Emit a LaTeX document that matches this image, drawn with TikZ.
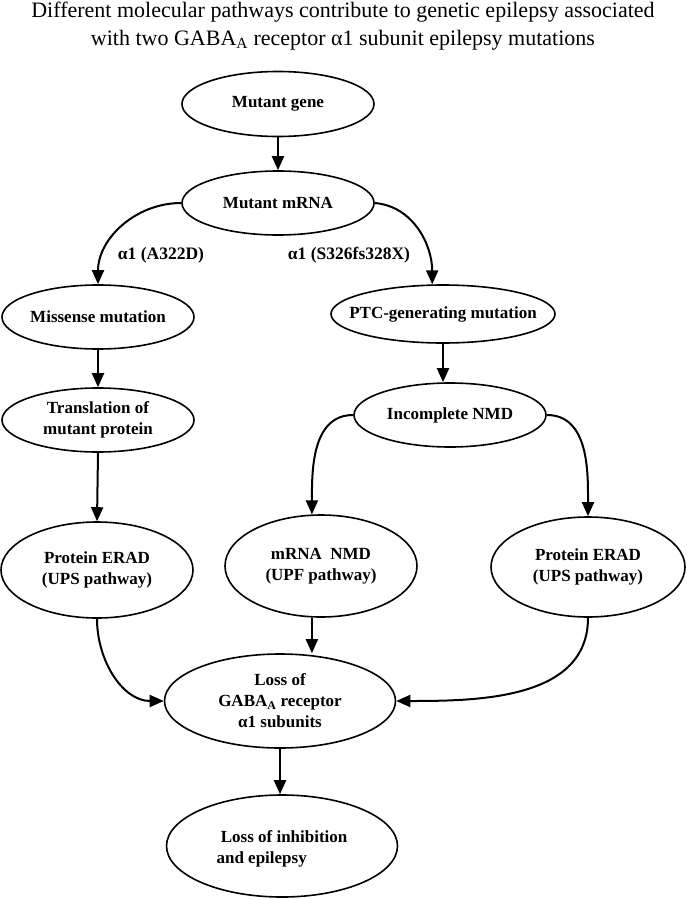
\documentclass[tikz,border=0pt]{standalone}
\usepackage{fontspec}
\setmainfont{Liberation Serif}
\usetikzlibrary{shapes.geometric,arrows.meta}
\begin{document}
\begin{tikzpicture}[x=1pt,y=-1pt,
  ebox/.style={draw, ellipse, line width=1.6pt, inner sep=0pt},
  etext/.style={font=\fontsize{17}{21}\selectfont\bfseries, align=center, inner sep=0pt},
  conn/.style={line width=2pt, -{Triangle[length=14pt,width=12pt]}},
  lbl/.style={font=\fontsize{17.5}{20}\selectfont\bfseries, inner sep=0pt}]
\useasboundingbox (0,0) rectangle (686,899);
\node[font=\fontsize{22}{28}\selectfont, align=center, inner sep=0pt] (title) at (343,26)
  {Different molecular pathways contribute to genetic epilepsy associated\\
   with two GABA\textsubscript{A} receptor α1 subunit epilepsy mutations};

% nodes
\node[ebox, minimum width=192pt, minimum height=65pt] (gene) at (278,104) {};
\node[etext] (genet) at (gene) {Mutant gene};
\node[ebox, minimum width=192pt, minimum height=64pt] (mrna) at (278,203) {};
\node[etext] (mrnat) at (mrna) {Mutant mRNA};
\node[ebox, minimum width=192pt, minimum height=64pt] (miss) at (98,317) {};
\node[etext] (misst) at (miss) {Missense mutation};
\node[ebox, minimum width=192pt, minimum height=64pt] (trans) at (98,420) {};
\node[etext] (transt) at (trans) {Translation of\\mutant protein};
\node[ebox, minimum width=224pt, minimum height=58pt] (ptc) at (443,314) {};
\node[etext] (ptct) at (ptc) {PTC-generating mutation};
\node[ebox, minimum width=192pt, minimum height=64pt] (inmd) at (450,415) {};
\node[etext] (inmdt) at (inmd) {Incomplete NMD};
\node[ebox, minimum width=192pt, minimum height=96pt] (erad1) at (97,570) {};
\node[etext] (erad1t) at (erad1) {Protein ERAD\\(UPS pathway)};
\node[ebox, minimum width=192pt, minimum height=102pt] (mnmd) at (321,566) {};
\node[etext] (mnmdt) at (mnmd) {mRNA\ \ NMD\\(UPF pathway)};
\node[ebox, minimum width=194pt, minimum height=100pt] (erad2) at (588,567) {};
\node[etext] (erad2t) at (erad2) {Protein ERAD\\(UPS pathway)};
\node[ebox, minimum width=231pt, minimum height=94pt] (gaba) at (280,701) {};
\node[etext] (gabat) at (gaba) {Loss of\\GABA\textsubscript{A} receptor\\α1 subunits};
\node[ebox, minimum width=231pt, minimum height=102pt] (inhib) at (282,846) {};
\node[etext, align=left] (inhibt) at (282,849) {\ Loss of inhibition\\and epilepsy};

% connector labels
\node[lbl] (la) at (161,255) {α1 (A322D)};
\node[lbl] (lb) at (349,255) {α1 (S326fs328X)};

% connectors
\draw[conn] (gene.south) -- (mrna.north);
\draw[conn] (mrna.west) to[out=180,in=90] (miss.north);
\draw[conn] (mrna.east) to[out=-5,in=90] (ptc.110);
\draw[conn] (miss.south) -- (trans.north);
\draw[conn] (trans.south) -- (erad1.north);
\draw[conn] (ptc.south) -- (ptc.south |- inmd.north);
\draw[conn] (inmd.west) to[out=180,in=90] (mnmd.100);
\draw[conn] (inmd.east) to[out=0,in=90] (erad2.north);
\draw[conn] (mnmd.260) -- (mnmd.260 |- gaba.north);
\draw[conn] (erad1.south) to[out=-90,in=180] (gaba.west);
\draw[conn] (erad2.south) to[out=-90,in=0] (gaba.east);
\draw[conn] (gaba.south) -- (gaba.south |- inhib.north);
\end{tikzpicture}
\end{document}
